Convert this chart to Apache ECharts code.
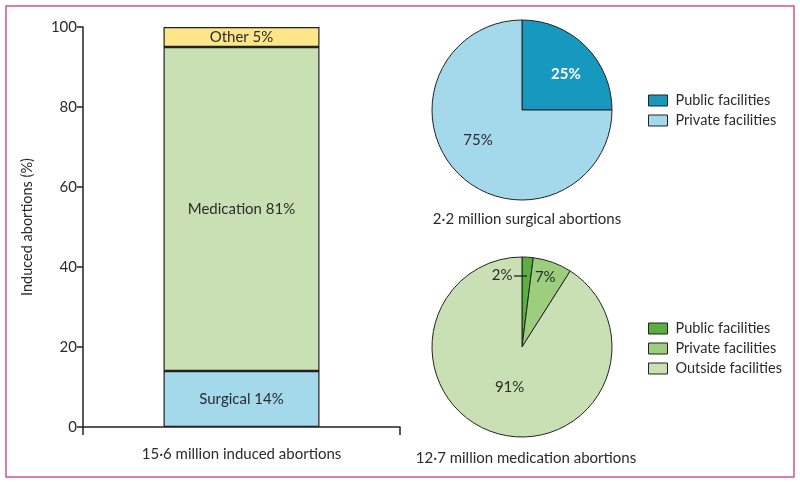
<!DOCTYPE html>
<html>
<head>
<meta charset="utf-8">
<script src="https://cdn.jsdelivr.net/npm/echarts@6/dist/echarts.min.js"></script>
<style>html,body{margin:0;padding:0;background:#fff}#c{width:800px;height:484px}</style>
</head>
<body>
<div id="c"></div>
<script>
// ---- data ----
const barCategory = ['15·6 million induced abortions'];
const barSeriesNames = ['Surgical', 'Medication', 'Other'];
const barValues = [14, 81, 5];
const yTicks = [0, 20, 40, 60, 80, 100];

const surgicalTitle = '2·2 million surgical abortions';
const surgicalNames = ['Public facilities', 'Private facilities'];
const surgicalValues = [25, 75];

const medicationTitle = '12·7 million medication abortions';
const medicationNames = ['Public facilities', 'Private facilities', 'Outside facilities'];
const medicationValues = [2, 7, 91];

// ---- styles ----
const FONT = 'Lato';
const TXT = '#2b2b2b';
const EDGE = '#222222';
const barColors = ['#a3d9ea', '#c9e0b5', '#fde68a'];
const surgicalColors = ['#1799bf', '#a3d9ea'];
const medicationColors = ['#5aae42', '#9dce7e', '#c9e0b5'];

const chart = echarts.init(document.getElementById('c'), null, {renderer: 'canvas'});

const barSeries = barSeriesNames.map((n, i) => ({
  name: n,
  type: 'bar',
  stack: 'total',
  barWidth: 156,
  data: [barValues[i]],
  itemStyle: {color: barColors[i], borderColor: EDGE, borderWidth: 1.2},
  label: {
    show: true, position: 'inside', color: TXT, fontFamily: FONT, fontSize: 15,
    formatter: p => p.seriesName + ' ' + p.value + '%'
  }
}));

const surgicalOffsets = [[10, -2], [-10, -4]];
const medicationOffsets = [[0, 0], [7, -25], [1, -6]];
const LEADER_DROP = 19; // leader line distance below top of small slice

const option = {
  animation: false,
  textStyle: {fontFamily: FONT, color: TXT},
  graphic: [{
    type: 'rect', shape: {x: 6, y: 6, width: 788, height: 471},
    style: {fill: 'none', stroke: '#d9547e', lineWidth: 1.5}, silent: true
  }],
  title: [
    {text: surgicalTitle, left: 527, top: 212, textAlign: 'center', padding: 0,
     textStyle: {fontFamily: FONT, fontSize: 15, fontWeight: 'normal', color: TXT}},
    {text: medicationTitle, left: 526, top: 451, textAlign: 'center', padding: 0,
     textStyle: {fontFamily: FONT, fontSize: 15, fontWeight: 'normal', color: TXT}}
  ],
  legend: [
    {
      left: 648, top: 93, orient: 'vertical', padding: 0, itemGap: 5,
      itemWidth: 19, itemHeight: 11, icon: 'rect',
      itemStyle: {borderColor: EDGE, borderWidth: 1},
      textStyle: {fontFamily: FONT, fontSize: 14.5, color: TXT, padding: [0, 0, 0, 3]},
      selectedMode: false,
      data: surgicalNames.map((n, i) => ({name: n, itemStyle: {color: surgicalColors[i]}}))
    },
    {
      left: 648, top: 321, orient: 'vertical', padding: 0, itemGap: 5,
      itemWidth: 19, itemHeight: 11, icon: 'rect',
      itemStyle: {borderColor: EDGE, borderWidth: 1},
      textStyle: {fontFamily: FONT, fontSize: 14.5, color: TXT, padding: [0, 0, 0, 3]},
      selectedMode: false,
      data: medicationNames.map((n, i) => ({name: n, itemStyle: {color: medicationColors[i]}}))
    }
  ],
  grid: {left: 83, right: 400, top: 27, bottom: 57, containLabel: false},
  xAxis: {
    type: 'category', data: barCategory,
    axisLine: {lineStyle: {color: EDGE, width: 1.5}},
    axisTick: {show: true, length: 8, lineStyle: {color: EDGE, width: 1.5}},
    axisLabel: {margin: 20, fontFamily: FONT, fontSize: 15, color: TXT}
  },
  yAxis: {
    type: 'value', min: yTicks[0], max: yTicks[yTicks.length - 1], interval: yTicks[1] - yTicks[0],
    name: 'Induced abortions (%)', nameLocation: 'middle', nameGap: 48,
    nameTextStyle: {fontFamily: FONT, fontSize: 14.5, color: TXT},
    axisLine: {show: true, lineStyle: {color: EDGE, width: 1.5}},
    axisTick: {show: true, length: 6, lineStyle: {color: EDGE, width: 1.5}},
    axisLabel: {margin: 6, fontFamily: FONT, fontSize: 15, color: TXT},
    splitLine: {show: false}
  },
  series: [
    ...barSeries,
    {
      type: 'pie', center: [522, 110], radius: 90, startAngle: 90, clockwise: true,
      avoidLabelOverlap: false, silent: true,
      itemStyle: {borderColor: EDGE, borderWidth: 1},
      label: {show: true, position: 'inside', formatter: '{c}%', fontFamily: FONT, fontSize: 15, color: TXT},
      labelLine: {show: false},
      labelLayout: p => ({dx: surgicalOffsets[p.dataIndex][0], dy: surgicalOffsets[p.dataIndex][1]}),
      data: surgicalNames.map((n, i) => ({
        name: n, value: surgicalValues[i],
        itemStyle: {color: surgicalColors[i]},
        label: i === 0 ? {color: '#ffffff', fontWeight: 'bold'} : {}
      }))
    },
    {
      type: 'pie', center: [522, 347], radius: 90, startAngle: 90, clockwise: true,
      avoidLabelOverlap: false, silent: true,
      itemStyle: {borderColor: EDGE, borderWidth: 1},
      label: {show: true, position: 'inside', formatter: '{c}%', fontFamily: FONT, fontSize: 15, color: TXT},
      labelLine: {show: false},
      labelLayout: p => {
        if (p.dataIndex === 0) {
          return {x: p.rect.x - 9, y: p.rect.y + LEADER_DROP, align: 'right', verticalAlign: 'middle'};
        }
        return {dx: medicationOffsets[p.dataIndex][0], dy: medicationOffsets[p.dataIndex][1]};
      },
      data: medicationNames.map((n, i) => ({
        name: n, value: medicationValues[i],
        itemStyle: {color: medicationColors[i]}
      }))
    }
  ]
};
chart.setOption(option);

// leader line for the small "2%" slice, derived from the pie's own layout
const lay = chart.getModel().getSeriesByIndex(4).getData().getItemLayout(0);
const ly = lay.cy - lay.r + LEADER_DROP;
chart.getZr().add(new echarts.graphic.Line({
  shape: {x1: lay.cx - 8, y1: ly, x2: lay.cx + 5, y2: ly},
  style: {stroke: EDGE, lineWidth: 1.3},
  silent: true, z: 100
}));
</script>
</body>
</html>
